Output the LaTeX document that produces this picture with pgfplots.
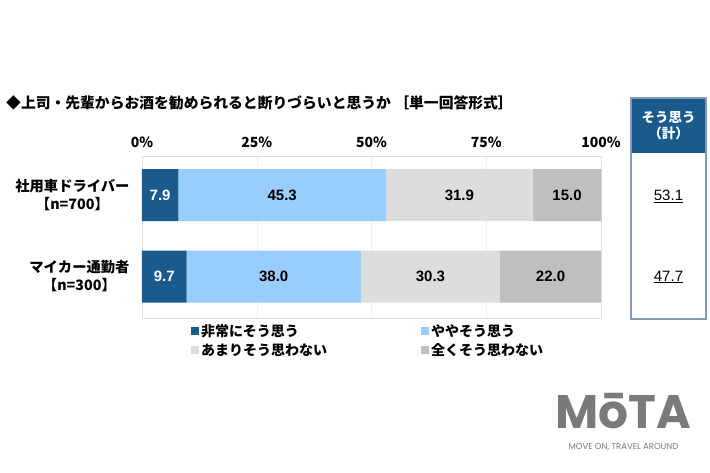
\documentclass[border=0pt]{standalone}
\usepackage{pgfplots}
\pgfplotsset{compat=1.18}
\usepackage{fontspec}
\setmainfont{Noto Sans CJK JP}
\newfontfamily\numfont{Liberation Sans}
\newfontfamily\logofont{Poppins}
\definecolor{c1}{HTML}{1A5A8C}
\definecolor{c2}{HTML}{99CCFF}
\definecolor{c3}{HTML}{DDDDDD}
\definecolor{c4}{HTML}{BFBFBF}
\definecolor{boxline}{HTML}{7F9DB9}
\definecolor{logo}{HTML}{7A7A7A}
\begin{document}
\begin{tikzpicture}[x=1pt,y=1pt]
\path[use as bounding box] (0,0) rectangle (710,473);
% title
\node[anchor=west,inner sep=0pt,font=\fontsize{14.8}{17}\selectfont\bfseries]
  at (6,370) {◆上司・先輩からお酒を勧められると断りづらいと思うか ［単一回答形式］};
% summary box on the right
\fill[c1] (631,375) rectangle (706,320);
\draw[boxline,line width=1.2pt] (631,375) rectangle (706,154);
\node[white,align=center,font=\fontsize{13.5}{16}\selectfont\bfseries]
  at (668.5,347.5) {そう思う\\（計）};
\node[font=\numfont\fontsize{15}{17}\selectfont] at (668.5,277) {\underline{53.1}};
\node[font=\numfont\fontsize{15}{17}\selectfont] at (668.5,196) {\underline{47.7}};

\begin{axis}[
    at={(142pt,155pt)}, anchor=south west,
    scale only axis, width=459pt, height=162pt,
    xbar stacked, bar width=52pt,
    xmin=0, xmax=100,
    ymin=-0.479, ymax=1.509, y dir=reverse,
    ytick={0,1},
    yticklabels={社用車ドライバー\\【n=700】, マイカー通勤者\\【n=300】},
    yticklabel style={align=center, font=\fontsize{14.3}{18}\selectfont\bfseries, xshift=-9pt},
    xtick={0,25,50,75,100},
    xticklabels={0\%,25\%,50\%,75\%,100\%},
    xticklabel pos=upper,
    xticklabel style={font=\fontsize{14}{16}\selectfont\bfseries, yshift=5pt},
    major tick length=0pt,
    xmajorgrids, grid style={gray!12},
    axis line style={gray!25},
    clip=false,
    visualization depends on={rawx \as \rawx},
    nodes near coords={\pgfmathprintnumber[fixed,fixed zerofill,precision=1,assume math mode=true]{\rawx}},
    every node near coord/.style={anchor=center,
      font=\numfont\bfseries\fontsize{15}{17}\selectfont},
    legend columns=2,
    legend image code/.code={\fill[#1,draw=none] (0pt,-4pt) rectangle (8pt,4pt);},
    legend style={draw=none, fill=none, at={(0.1,-0.012)}, anchor=north west,
      font=\fontsize{14}{16}\selectfont\bfseries,
      /tikz/every even column/.append style={column sep=92pt},
      row sep=2pt, legend cell align=left},
]
\addplot[fill=c1, draw=none,
  nodes near coords={\textcolor{white}{\pgfmathprintnumber[fixed,fixed zerofill,precision=1,assume math mode=true]{\rawx}}}]
  coordinates {(7.9,0) (9.7,1)};
\addplot[fill=c2, draw=none] coordinates {(45.3,0) (38.0,1)};
\addplot[fill=c3, draw=none] coordinates {(31.9,0) (30.3,1)};
\addplot[fill=c4, draw=none] coordinates {(15.0,0) (22.0,1)};
\legend{非常にそう思う, ややそう思う, あまりそう思わない, 全くそう思わない}
\end{axis}

% logo
\node[logo, inner sep=0pt, font=\logofont\bfseries\fontsize{47}{47}\selectfont] at (623.5,62) {MōTA};
\node[logo, inner sep=0pt, font=\logofont\fontsize{8.5}{10}\selectfont] at (623.5,26) {MOVE ON, TRAVEL AROUND};
\end{tikzpicture}
\end{document}
